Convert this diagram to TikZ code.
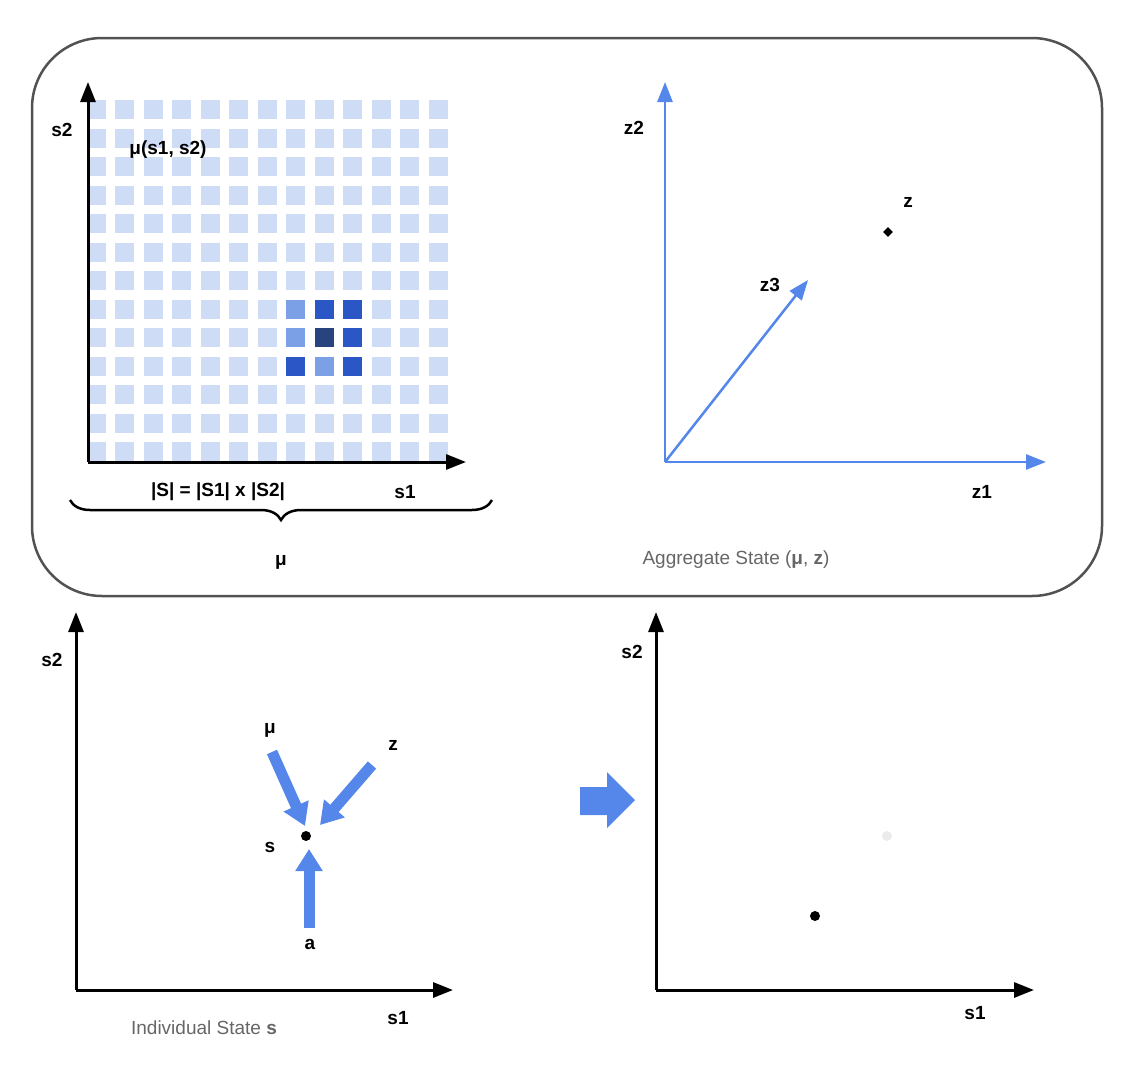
\documentclass[tikz,border=0pt]{standalone}
\usepackage{fontspec}
\setmainfont{Liberation Sans}
\usetikzlibrary{arrows.meta,decorations.pathreplacing}
\definecolor{ablue}{HTML}{5586E9}
\definecolor{gcl}{HTML}{CEDCF6}
\definecolor{gcm}{HTML}{7BA0E6}
\definecolor{gcb}{HTML}{2A56C6}
\definecolor{gcd}{HTML}{27447F}
\definecolor{gtxt}{HTML}{666666}
\tikzset{x=1pt,y=-1pt,
 axis/.style={line width=3pt,-{Triangle[length=20pt,width=15pt]}},
 baxis/.style={axis,draw=ablue,line width=2.5pt},
 lbl/.style={font=\bfseries\fontsize{19}{22}\selectfont,inner sep=1pt},
 captxt/.style={font=\fontsize{19}{22}\selectfont,text=gtxt,inner sep=1pt},
 fat/.style={draw=ablue,line width=11pt,-{Triangle[length=22pt,width=26pt]},shorten >=0pt},
 pt/.style={circle,fill=black,inner sep=0pt,minimum size=10pt}}
\begin{document}
\begin{tikzpicture}
\useasboundingbox (0,0) rectangle (1132,1068);
\draw[line width=2.5pt,draw=black!68,rounded corners=70pt] (32,38) rectangle (1102,596);
% grid
\foreach \i in {0,...,12}{\foreach \j in {0,...,12}{
  \fill[gcl] ({86.5+28.5*\i},{100+28.5*\j}) rectangle ++(19,19);}}
\foreach \i/\j/\c in {7/7/gcm,8/7/gcb,9/7/gcb,7/8/gcm,8/8/gcd,9/8/gcb,7/9/gcb,8/9/gcm,9/9/gcb}{
  \fill[fill=\c] ({86.5+28.5*\i},{100+28.5*\j}) rectangle ++(19,19);}
\fill[white] (60,462) rectangle (470,470);
\coordinate (o1) at (88,462);
\coordinate (y1) at (88,82);
\coordinate (x1) at (466,462);
\draw[axis] (o1) -- (y1);
\draw[axis] (o1) -- (x1);
\node[lbl] (ls2a) at (62,130) {s2};
\node[lbl] (mu12) at (168,150) {μ(s1, s2)};
\node[lbl] (ls1a) at (405,492) {s1};
\node[lbl] (card) at (218,492) {|S| = |S1| x |S2|};
\coordinate (b1) at (492,500);
\coordinate (b2) at (70,500);
\draw[line width=2.5pt,decorate,decoration={brace,amplitude=20pt}] (b1) -- (b2);
\node[lbl] (mub) at (281,562) {μ};
% aggregate axes
\coordinate (o2) at (665,462);
\coordinate (z2e) at (665,82);
\coordinate (z1e) at (1046,462);
\coordinate (z3e) at (808,280);
\draw[baxis] (o2) -- (z2e);
\draw[baxis] (o2) -- (z1e);
\draw[baxis] (o2) -- (z3e);
\node[lbl] (lz2) at (634,128) {z2};
\node[lbl] (lz1) at (982,492) {z1};
\node[lbl] (lz3) at (770,285) {z3};
\node[lbl] (lz) at (908,202) {z};
\node[fill=black,rotate=45,inner sep=0pt,minimum size=7pt] (zp) at (888,232) {};
\node[captxt] (agg) at (736,560) {Aggregate State (\textbf{μ}, \textbf{z})};
% individual
\coordinate (o3) at (76,990);
\coordinate (y3) at (76,612);
\coordinate (x3) at (453,990);
\draw[axis] (o3) -- (y3);
\draw[axis] (o3) -- (x3);
\node[lbl] (ls2b) at (52,660) {s2};
\node[lbl] (ls1b) at (398,1018) {s1};
\node[captxt] (ind) at (204,1028) {Individual State \textbf{s}};
\node[pt] (s) at (306,836) {};
\node[lbl] (ls) at (270,847) {s};
\node[lbl] (lmu) at (270,730) {μ};
\node[lbl] (lzz) at (393,745) {z};
\node[lbl] (la) at (310,944) {a};
\coordinate (mus) at (272,752);
\coordinate (zs) at (372,765);
\coordinate (as) at (309,928);
\draw[fat] (mus) -- (305,826);
\draw[fat] (zs) -- (320,825);
\draw[fat] (as) -- (309,849);
\fill[ablue] (580,787) -- (607,787) -- (607,772) -- (635,800) -- (607,828) -- (607,815) -- (580,815) -- cycle;
% result
\coordinate (o4) at (656,990);
\coordinate (y4) at (656,612);
\coordinate (x4) at (1034,990);
\draw[axis] (o4) -- (y4);
\draw[axis] (o4) -- (x4);
\node[lbl] (ls2c) at (632,652) {s2};
\node[lbl] (ls1c) at (975,1013) {s1};
\node[pt] (s2p) at (815,916) {};
\node[pt,fill=black!8] (s1p) at (887,836) {};
\end{tikzpicture}
\end{document}
